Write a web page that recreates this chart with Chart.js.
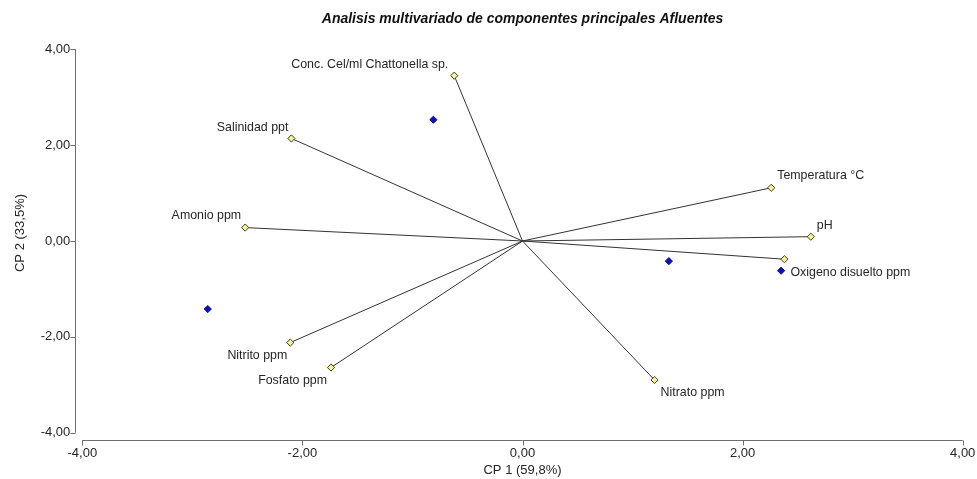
<!DOCTYPE html>
<html>
<head>
<meta charset="utf-8">
<script src="https://cdn.jsdelivr.net/npm/chart.js@4.4.1/dist/chart.umd.min.js"></script>
<style>
html,body{margin:0;padding:0;background:#fff;}
#wrap{width:977px;height:479px;position:relative;}
</style>
</head>
<body>
<div id="wrap"><canvas id="c" width="977" height="479"></canvas></div>
<script>
// ---- data ----
const chartTitle = "Analisis multivariado de componentes principales Afluentes";
const xAxisTitle = "CP 1 (59,8%)";
const yAxisTitle = "CP 2 (33,5%)";
const tickValues = [-4, -2, 0, 2, 4];
const variableNames = ["Conc. Cel/ml Chattonella sp.", "Salinidad ppt", "Amonio ppm", "Temperatura °C", "pH", "Oxigeno disuelto ppm", "Nitrito ppm", "Fosfato ppm", "Nitrato ppm"];
const variableCP1 = [-0.62, -2.10, -2.52, 2.26, 2.62, 2.38, -2.11, -1.74, 1.20];
const variableCP2 = [3.45, 2.14, 0.28, 1.11, 0.09, -0.38, -2.12, -2.64, -2.90];
const observationCP1 = [-0.81, -2.86, 1.33, 2.35];
const observationCP2 = [2.53, -1.42, -0.42, -0.62];

// ---- label placement (style) ----
const labelPlace = [
  {align:'right', dx:-6, dy:-11},
  {align:'right', dx:-3, dy:-11},
  {align:'right', dx:-4, dy:-12},
  {align:'left',  dx:6,  dy:-12},
  {align:'left',  dx:6,  dy:-11},
  {align:'left',  dx:6,  dy:13},
  {align:'right', dx:-3, dy:13},
  {align:'right', dx:-4, dy:13},
  {align:'left',  dx:6,  dy:13}
];

const FONT = "'Liberation Sans', Arial, sans-serif";
const TEXT = '#262626';
const AXIS = '#6e6e6e';
const fmt = v => v.toFixed(2).replace('.', ',');

const datasets = [];
variableNames.forEach((n, i) => {
  datasets.push({
    label: n,
    data: [{x:0, y:0}, {x:variableCP1[i], y:variableCP2[i]}],
    showLine: true,
    borderColor: '#333333',
    borderWidth: 1,
    pointRadius: [0, 3.6],
    pointHoverRadius: [0, 3.6],
    pointStyle: 'rectRot',
    pointBackgroundColor: '#f6f58a',
    pointBorderColor: '#3a3a3a',
    pointBorderWidth: 1
  });
});
datasets.push({
  label: 'obs',
  data: observationCP1.map((x, i) => ({x, y: observationCP2[i]})),
  showLine: false,
  pointRadius: 3.6,
  pointStyle: 'rectRot',
  pointBackgroundColor: '#0a14b4',
  pointBorderColor: '#0a0a8c',
  pointBorderWidth: 1
});

const decor = {
  id: 'decor',
  afterDraw(chart) {
    const {ctx, chartArea: a, scales: {x, y}} = chart;
    ctx.save();
    // axes
    ctx.strokeStyle = AXIS;
    ctx.lineWidth = 1;
    const ax = Math.round(a.left - 7) + 0.5;
    const ay = Math.round(a.bottom + 7) + 0.5;
    ctx.beginPath();
    ctx.moveTo(ax, y.getPixelForValue(4));
    ctx.lineTo(ax, y.getPixelForValue(-4));
    tickValues.forEach(v => {
      const py = Math.round(y.getPixelForValue(v)) + 0.5;
      ctx.moveTo(ax - 5, py); ctx.lineTo(ax, py);
    });
    ctx.moveTo(x.getPixelForValue(-4), ay);
    ctx.lineTo(x.getPixelForValue(4), ay);
    tickValues.forEach(v => {
      const px = Math.round(x.getPixelForValue(v)) + 0.5;
      ctx.moveTo(px, ay); ctx.lineTo(px, ay + 5);
    });
    ctx.stroke();
    // variable labels
    ctx.fillStyle = TEXT;
    ctx.font = "12.4px " + FONT;
    ctx.textBaseline = 'middle';
    variableNames.forEach((n, i) => {
      const p = labelPlace[i];
      ctx.textAlign = p.align;
      ctx.fillText(n, x.getPixelForValue(variableCP1[i]) + p.dx, y.getPixelForValue(variableCP2[i]) + p.dy);
    });
    // title
    ctx.textAlign = 'center';
    ctx.font = "italic bold 14px " + FONT;
    ctx.fillStyle = '#111';
    ctx.fillText(chartTitle, x.getPixelForValue(0), 19);
    // axis titles
    ctx.font = "13px " + FONT;
    ctx.fillStyle = TEXT;
    ctx.fillText(xAxisTitle, x.getPixelForValue(0), 470);
    ctx.save();
    ctx.translate(20, y.getPixelForValue(0) - 8);
    ctx.rotate(-Math.PI / 2);
    ctx.fillText(yAxisTitle, 0, 0);
    ctx.restore();
    ctx.restore();
  }
};

new Chart(document.getElementById('c'), {
  type: 'scatter',
  data: {datasets},
  options: {
    responsive: false,
    animation: false,
    devicePixelRatio: 1,
    layout: {padding: {top: 49.3, right: 14.3, left: 0, bottom: 0}},
    plugins: {legend: {display: false}, tooltip: {enabled: false}, title: {display: false}},
    scales: {
      x: {
        type: 'linear', min: -4, max: 4,
        afterBuildTicks: s => { s.ticks = tickValues.map(v => ({value: v})); },
        afterFit: s => { s.height = 46.3; s.paddingLeft = 0; s.paddingRight = 0; },
        grid: {display: false, drawTicks: false},
        border: {display: false},
        ticks: {padding: 13, color: TEXT, font: {family: FONT, size: 13}, callback: v => fmt(v), maxRotation: 0}
      },
      y: {
        type: 'linear', min: -4, max: 4,
        afterBuildTicks: s => { s.ticks = tickValues.map(v => ({value: v})); },
        afterFit: s => { s.width = 82.3; s.paddingTop = 0; s.paddingBottom = 0; },
        grid: {display: false, drawTicks: false},
        border: {display: false},
        ticks: {padding: 12, color: TEXT, font: {family: FONT, size: 13}, callback: v => fmt(v)}
      }
    }
  },
  plugins: [decor]
});
</script>
</body>
</html>
